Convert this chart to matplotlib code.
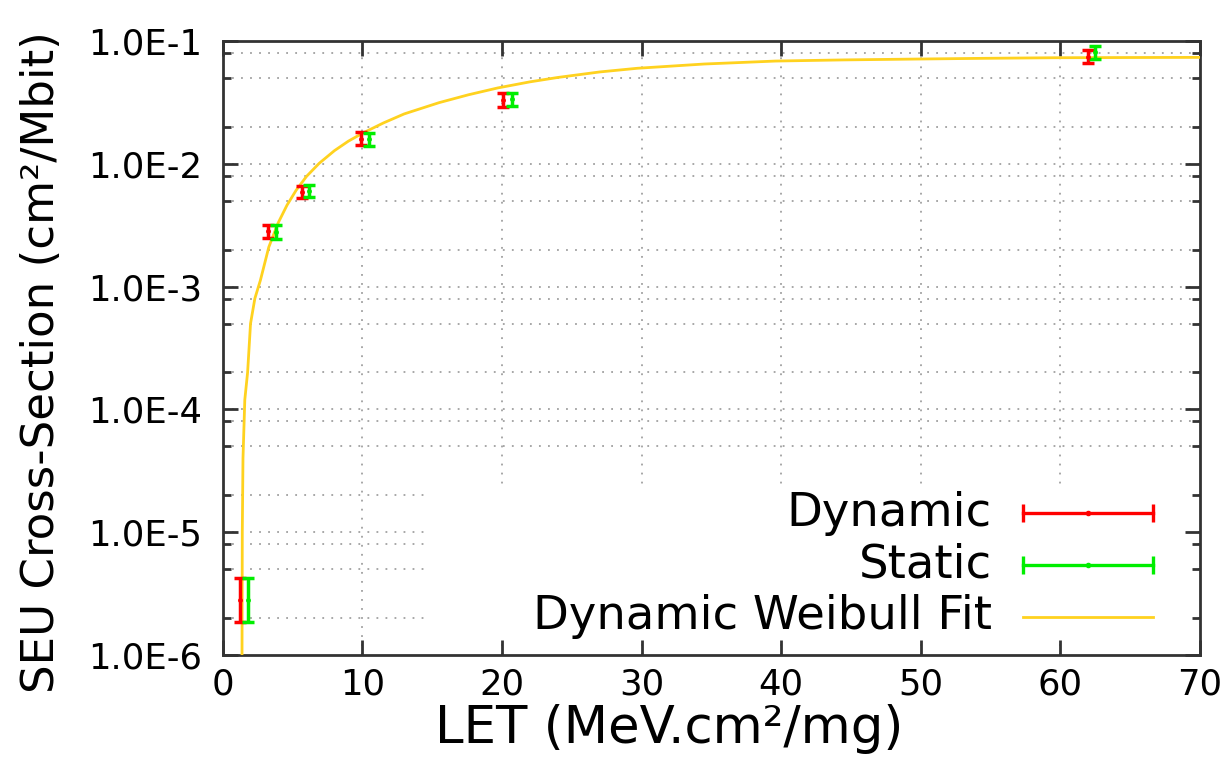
import numpy as np
import matplotlib
matplotlib.use("Agg")
import matplotlib.pyplot as plt
from matplotlib.patches import Rectangle
from matplotlib.ticker import FixedLocator, FuncFormatter, NullFormatter

plt.rcParams['font.family'] = ['DejaVu Sans']

# data
dyn_let = [1.23, 3.24, 5.66, 9.88, 20.1, 62.0]
dyn_xs = [2.8e-6, 2.85e-3, 5.9e-3, 1.6e-2, 3.3e-2, 7.45e-2]
dyn_lo = [1.85e-6, 2.5e-3, 5.3e-3, 1.42e-2, 2.92e-2, 6.6e-2]
dyn_hi = [4.2e-6, 3.2e-3, 6.6e-3, 1.8e-2, 3.75e-2, 8.45e-2]

sta_let = [1.82, 3.84, 6.15, 10.47, 20.7, 62.5]
sta_xs = [2.8e-6, 2.8e-3, 6.0e-3, 1.58e-2, 3.35e-2, 8.1e-2]
sta_lo = [1.85e-6, 2.45e-3, 5.35e-3, 1.4e-2, 2.95e-2, 7.1e-2]
sta_hi = [4.2e-6, 3.2e-3, 6.7e-3, 1.78e-2, 3.8e-2, 9.1e-2]

fit_let = [1.38, 1.40, 1.45, 1.58, 1.78, 1.99, 2.3, 2.7, 3.3, 3.95, 4.6,
           5.26, 6.0, 6.91, 8.0, 9.0, 9.99, 11.5, 13.0, 15.5, 17.6, 19.7,
           22.0, 24.0, 27.0, 29.7, 34.5, 39.6, 44.5, 49.6, 54.5, 59.5,
           65.0, 70.0]
fit_xs = [1.0e-6, 1.0e-5, 4.0e-5, 1.2e-4, 2.0e-4, 5.0e-4, 8.0e-4, 1.13e-3,
          2.1e-3, 3.27e-3, 4.6e-3, 6.1e-3, 7.9e-3, 1.01e-2, 1.28e-2, 1.53e-2,
          1.77e-2, 2.15e-2, 2.55e-2, 3.15e-2, 3.65e-2, 4.15e-2, 4.65e-2,
          5.05e-2, 5.6e-2, 6.0e-2, 6.5e-2, 6.87e-2, 7.02e-2, 7.13e-2,
          7.23e-2, 7.31e-2, 7.34e-2, 7.36e-2]

x_ticks = [0, 10, 20, 30, 40, 50, 60, 70]
y_major = [1e-6, 1e-5, 1e-4, 1e-3, 1e-2, 1e-1]
y_minor = [m * d for d in y_major[:-1] for m in (2, 5, 8)]

red = '#ff0000'
green = '#00ee00'
gold = '#ffd21f'

fig = plt.figure(figsize=(12.32, 7.57), dpi=100)
ax = fig.add_axes([0.1808, 0.1347, 0.974 - 0.1808, 0.9458 - 0.1347])
ax.set_yscale('log')
ax.set_xlim(0, 70)
ax.set_ylim(1e-6, 1e-1)

# grid drawn by hand so the legend box can hide it but not the ticks
for x in x_ticks[1:-1]:
    ax.axvline(x, color='#a0a0a0', ls=(0, (1, 4)), lw=1.3, zorder=0.5)
for y in y_major[1:-1] + y_minor:
    ax.axhline(y, color='#a0a0a0', ls=(0, (1, 4)), lw=1.3, zorder=0.5)

ax.plot(fit_let, fit_xs, color=gold, lw=2, zorder=3)

def bars(xv, yv, lo, hi, c):
    yerr = [np.array(yv) - np.array(lo), np.array(hi) - np.array(yv)]
    ax.errorbar(xv, yv, yerr=yerr, fmt='.', color=c, ms=5, elinewidth=2.5,
                capsize=4.5, capthick=2.5, zorder=4)

bars(dyn_let, dyn_xs, dyn_lo, dyn_hi, red)
bars(sta_let, sta_xs, sta_lo, sta_hi, green)

# gnuplot-like key with white box
ax.add_patch(Rectangle((0.212, 0.02), 0.786, 0.252, transform=ax.transAxes,
                       facecolor='white', edgecolor='none', zorder=1))
rows = [(0.231, 'Dynamic', red, True), (0.147, 'Static', green, True),
        (0.062, 'Dynamic Weibull Fit', gold, False)]
for yr, label, c, eb in rows:
    ax.text(0.787, yr, label, transform=ax.transAxes, ha='right', va='center',
            fontsize=33.5, zorder=5)
    ax.plot([0.819, 0.952], [yr, yr], transform=ax.transAxes, color=c,
            lw=2.4 if eb else 2, zorder=5)
    if eb:
        ax.plot([0.819, 0.952], [yr, yr], transform=ax.transAxes, ls='none',
                marker='|', ms=13, mew=2.4, color=c, zorder=5)
        ax.plot([0.8855], [yr], transform=ax.transAxes, marker='.', ms=6,
                color=c, zorder=5)

ax.xaxis.set_major_locator(FixedLocator(x_ticks))
ax.yaxis.set_major_locator(FixedLocator(y_major))
ax.yaxis.set_minor_locator(FixedLocator(y_minor))
ax.yaxis.set_minor_formatter(NullFormatter())
ax.yaxis.set_major_formatter(FuncFormatter(lambda v, p: '1.0E%d' % round(np.log10(v))))
ax.xaxis.set_minor_locator(FixedLocator([]))

ax.tick_params(which='both', direction='in', top=True, right=True,
               color='#333333', labelsize=25.5)
ax.tick_params(which='major', length=11, width=2, pad=15)
ax.tick_params(axis='x', which='major', pad=9)
ax.tick_params(which='minor', length=6, width=2)
for s in ax.spines.values():
    s.set_linewidth(2)
    s.set_color('#333333')

ax.set_xlabel('LET (MeV.cm²/mg)', fontsize=37)
ax.set_ylabel('SEU Cross-Section (cm²/Mbit)', fontsize=32.5)
ax.xaxis.set_label_coords(0.4567, -0.08)
ax.yaxis.set_label_coords(-0.163, 0.477)

fig.savefig('out.png', dpi=100)
